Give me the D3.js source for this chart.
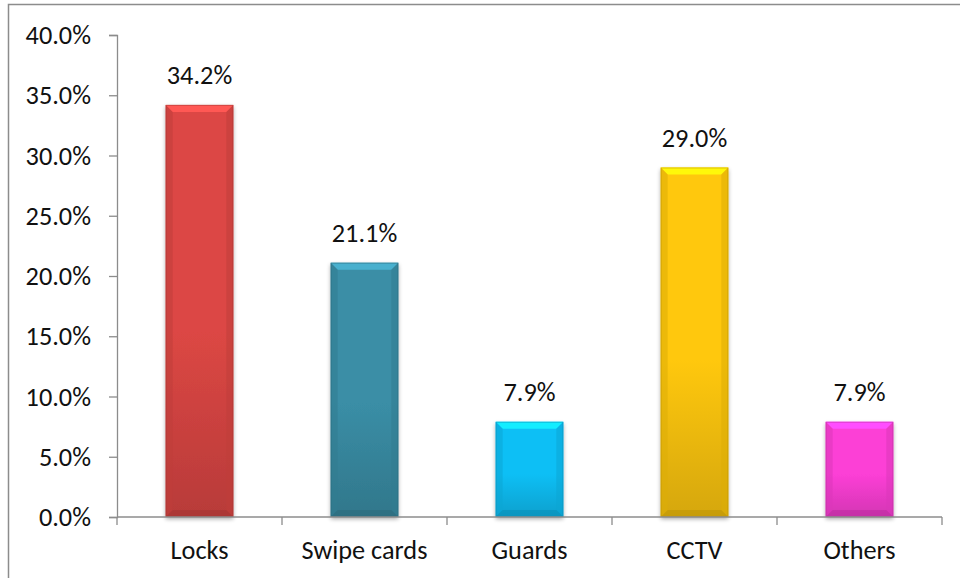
<!DOCTYPE html>
<html>
<head>
<meta charset="utf-8">
<script src="https://cdn.jsdelivr.net/npm/d3@7"></script>
<style>
  html, body { margin: 0; padding: 0; background: #fff; }
  svg { display: block; }
  text { font-family: Carlito, Lato, "Open Sans", sans-serif; fill: #111; }
</style>
</head>
<body>
<svg id="chart" width="960" height="578"></svg>
<script>
// Share of respondents by physical security measure
const categories = ["Locks", "Swipe cards", "Guards", "CCTV", "Others"];
const values = [34.2, 21.1, 7.9, 29.0, 7.9];
const barColors = ["#dc4744", "#3a8ea6", "#0fbff5", "#ffc808", "#fc3fd6"];
const yTicks = [0, 5, 10, 15, 20, 25, 30, 35, 40];

const svg = d3.select("#chart");
const W = 960, H = 578;
const margin = { left: 117, right: 18, top: 35, bottom: 61 };
const fontSize = 26.3;

// outer frame (open on right and bottom)
svg.append("rect")
  .attr("x", 8.5).attr("y", 4.5)
  .attr("width", W + 10).attr("height", H + 10)
  .attr("fill", "none").attr("stroke", "#8c8c8c").attr("stroke-width", 1.5);

const x = d3.scaleBand()
  .domain(categories)
  .range([margin.left, W - margin.right])
  .paddingInner(0.59).paddingOuter(0.295);

const y = d3.scaleLinear().domain([0, 40]).range([H - margin.bottom, margin.top]);

const defs = svg.append("defs");

// soft shadow under each bar
const shadow = defs.append("filter").attr("id", "barShadow")
  .attr("x", "-30%").attr("y", "-10%").attr("width", "160%").attr("height", "130%");
shadow.append("feGaussianBlur").attr("in", "SourceAlpha").attr("stdDeviation", 2.2);
shadow.append("feOffset").attr("dx", 0).attr("dy", 1.5).attr("result", "blur");
shadow.append("feComponentTransfer").append("feFuncA").attr("type", "linear").attr("slope", 0.35);
const fm = shadow.append("feMerge");
fm.append("feMergeNode");
fm.append("feMergeNode").attr("in", "SourceGraphic");

barColors.forEach((c, i) => {
  const g = defs.append("linearGradient").attr("id", "grad" + i)
    .attr("x1", 0).attr("y1", 0).attr("x2", 0).attr("y2", 1);
  g.append("stop").attr("offset", "0%").attr("stop-color", c);
  g.append("stop").attr("offset", "55%").attr("stop-color", c);
  g.append("stop").attr("offset", "100%").attr("stop-color", d3.color(c).darker(0.5));
});

// y axis
const yAxis = svg.append("g")
  .attr("transform", `translate(${margin.left},0)`)
  .call(d3.axisLeft(y).tickValues(yTicks).tickSize(8).tickPadding(18)
    .tickFormat(d => d.toFixed(1) + "%"));
yAxis.select(".domain").attr("stroke", "#8c8c8c").attr("stroke-width", 1.3);
yAxis.selectAll(".tick line").attr("stroke", "#8c8c8c").attr("stroke-width", 1.3);
yAxis.selectAll(".tick text").attr("font-size", fontSize).attr("dy", "0.33em");

// bars
const bw = x.bandwidth();
const bev = 7;
const bars = svg.append("g").selectAll("g.bar")
  .data(categories.map((c, i) => ({ c, v: values[i], i })))
  .join("g").attr("class", "bar");

bars.append("rect")
  .attr("x", d => x(d.c)).attr("y", d => y(d.v))
  .attr("width", bw).attr("height", d => y(0) - y(d.v))
  .attr("fill", d => `url(#grad${d.i})`)
  .attr("filter", "url(#barShadow)");

// bevel edges: light top, darker sides and bottom
bars.append("path")
  .attr("fill", d => d3.color(barColors[d.i]).brighter(0.6))
  .attr("d", d => {
    const x0 = x(d.c), x1 = x0 + bw, t = y(d.v);
    return `M${x0},${t}L${x1},${t}L${x1 - bev},${t + bev}L${x0 + bev},${t + bev}Z`;
  });
bars.append("path")
  .attr("fill", d => d3.color(barColors[d.i]).darker(0.4)).attr("opacity", 0.55)
  .attr("d", d => {
    const x0 = x(d.c), x1 = x0 + bw, t = y(d.v), b = y(0);
    return `M${x0},${t}L${x0 + bev},${t + bev}L${x0 + bev},${b - bev}L${x0},${b}Z` +
           `M${x1},${t}L${x1 - bev},${t + bev}L${x1 - bev},${b - bev}L${x1},${b}Z`;
  });
bars.append("path")
  .attr("fill", d => d3.color(barColors[d.i]).darker(0.9)).attr("opacity", 0.5)
  .attr("d", d => {
    const x0 = x(d.c), x1 = x0 + bw, b = y(0);
    return `M${x0},${b}L${x0 + bev},${b - bev}L${x1 - bev},${b - bev}L${x1},${b}Z`;
  });
bars.append("rect")
  .attr("x", d => x(d.c) + 0.5).attr("y", d => y(d.v) + 0.5)
  .attr("width", bw - 1).attr("height", d => y(0) - y(d.v) - 1)
  .attr("fill", "none")
  .attr("stroke", d => d3.color(barColors[d.i]).darker(0.8)).attr("stroke-opacity", 0.5);

// value labels
bars.append("text")
  .attr("x", d => x(d.c) + bw / 2)
  .attr("y", d => y(d.v) - 21)
  .attr("text-anchor", "middle")
  .attr("font-size", fontSize)
  .text(d => d.v.toFixed(1) + "%");

// x axis with ticks on category boundaries
const xAxisG = svg.append("g").attr("transform", `translate(0,${y(0)})`);
xAxisG.append("line")
  .attr("x1", margin.left).attr("x2", W - margin.right)
  .attr("stroke", "#8c8c8c").attr("stroke-width", 1.3);
const step = x.step();
const bounds = d3.range(categories.length + 1).map(k => margin.left + k * step);
xAxisG.selectAll("line.tk").data(bounds).join("line").attr("class", "tk")
  .attr("x1", d => d).attr("x2", d => d).attr("y1", 0).attr("y2", 8)
  .attr("stroke", "#8c8c8c").attr("stroke-width", 1.3);
xAxisG.selectAll("text").data(categories).join("text")
  .attr("x", d => x(d) + bw / 2).attr("y", 42)
  .attr("text-anchor", "middle").attr("font-size", fontSize)
  .text(d => d);
</script>
</body>
</html>
